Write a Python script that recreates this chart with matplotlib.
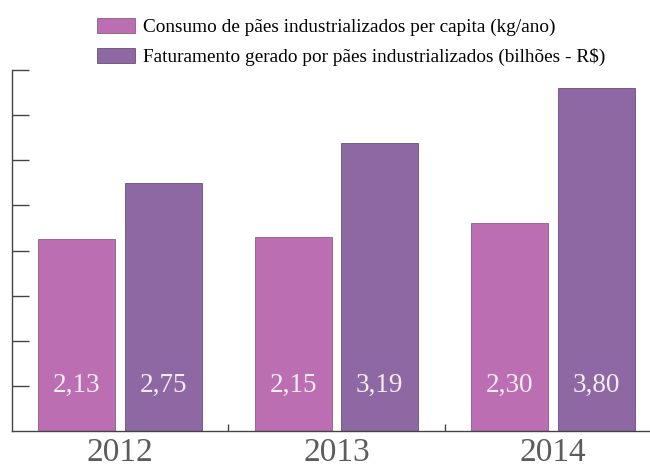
import numpy as np
import matplotlib.pyplot as plt

years = ['2012', '2013', '2014']
consumo = [2.13, 2.15, 2.30]
faturamento = [2.75, 3.19, 3.80]
series_labels = ['Consumo de pães industrializados per capita (kg/ano)',
                 'Faturamento gerado por pães industrializados (bilhões - R$)']

pink = '#bb6fb2'
purple = '#8d68a3'

plt.rcParams['font.family'] = ['Liberation Serif', 'DejaVu Serif']

fig = plt.figure(figsize=(6.5, 4.71), dpi=100)
ax = fig.add_axes([12 / 650, 1 - 431 / 471, 638 / 650, 361 / 471])

x = np.arange(len(years))
w = 0.356
off = 0.199
b1 = ax.bar(x - off, consumo, w, color=pink, edgecolor='#8a5a86', linewidth=0.6,
            label=series_labels[0])
b2 = ax.bar(x + off, faturamento, w, color=purple, edgecolor='#6a4f7a', linewidth=0.6,
            label=series_labels[1])

# value labels near the bottom of each bar
for bars, vals in [(b1, consumo), (b2, faturamento)]:
    for rect, v in zip(bars, vals):
        ax.text(rect.get_x() + rect.get_width() / 2, 0.50, f'{v:.2f}'.replace('.', ','),
                ha='center', va='center', fontsize=19.5, color='#f8ecf6')

ax.set_xlim(-0.499, 2.448)
ax.set_ylim(0, 4.0)
ax.set_yticks(np.arange(0.5, 4.01, 0.5))
ax.set_yticklabels([])
ax.tick_params(axis='y', direction='in', length=12, width=1, color='#444444')

ax.set_xticks(x)
ax.set_xticklabels(years, fontsize=24, color='#5c5c5c')
ax.tick_params(axis='x', length=0, pad=5)
ax.set_xticks([0.5, 1.5], minor=True)
ax.tick_params(axis='x', which='minor', direction='in', length=5, width=1, color='#444444')

for s in ['top', 'right']:
    ax.spines[s].set_visible(False)
for s in ['left', 'bottom']:
    ax.spines[s].set_color('#444444')
    ax.spines[s].set_linewidth(1)

fig.legend(handles=[b1, b2], loc='upper left', bbox_to_anchor=(87 / 650, 1 - 8 / 471),
           frameon=False, fontsize=13.9, handlelength=1.97, handleheight=0.83,
           handletextpad=0.41, labelspacing=0.62, borderpad=0)

fig.savefig('out.png', dpi=100)
